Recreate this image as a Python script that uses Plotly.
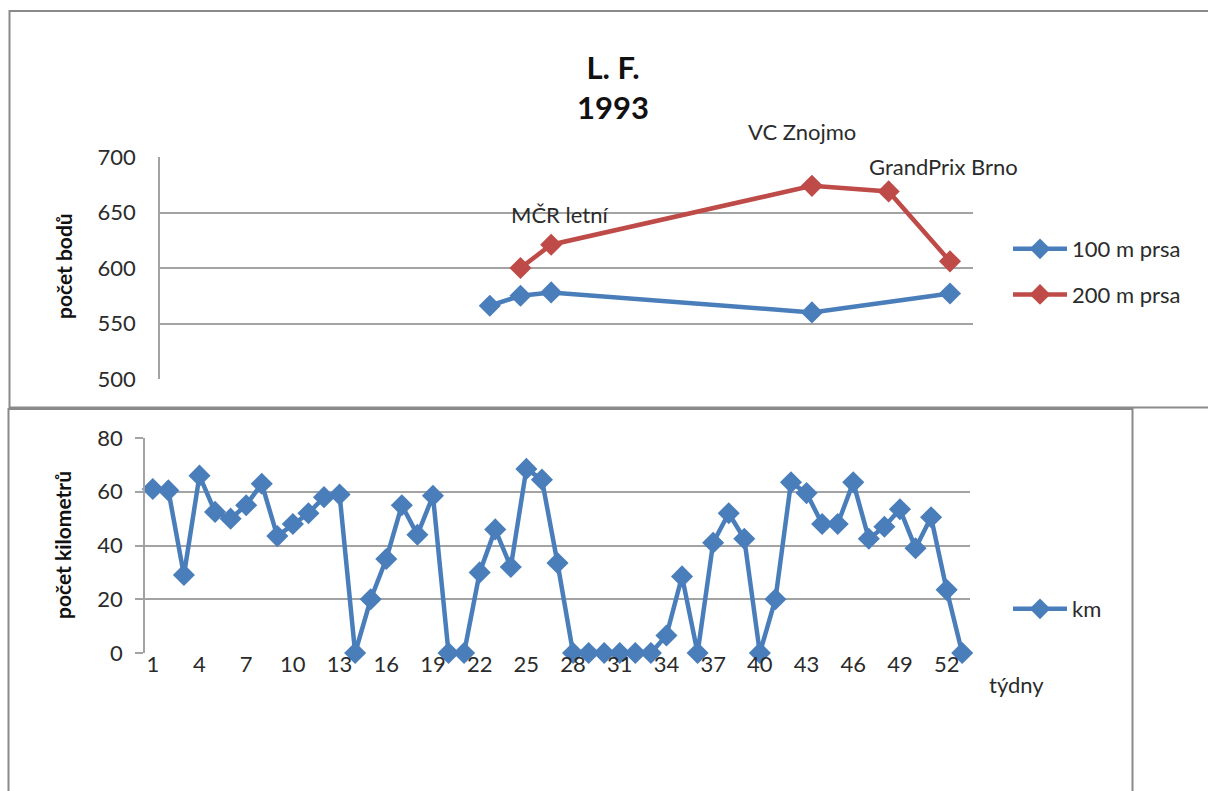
import plotly.graph_objects as go

# Weekly training volume (km) for weeks 1..53
weeks = list(range(1, 54))
km = [61, 60.5, 29, 66, 52.5, 50, 55, 63, 43.5, 48, 52, 58, 59, 0, 20, 35, 55, 44, 58.5,
      0, 0, 30, 46, 32, 68.5, 64.5, 33.5, 0, 0, 0, 0, 0, 0, 6.5, 28.5, 0, 41, 52, 42.5,
      0, 20, 63.5, 59.5, 48, 48, 63.5, 42.5, 47, 53.5, 39, 50.5, 23.5, 0]

# Competition results (points)
weeks_100 = [22, 24, 26, 43, 52]
points_100 = [566, 575, 578, 560, 577]
weeks_200 = [24, 26, 43, 48, 52]
points_200 = [600, 621, 674, 669, 606]

# Named meets, attached to 200 m results
meet_names = ["MČR letní", "VC Znojmo", "GrandPrix Brno"]
meet_weeks = [26, 43, 48]
meet_shifts = [(8, 30), (-10, 54), (55, 25)]

week_ticks = list(range(1, 54, 3))
pts_ticks = [500, 550, 600, 650, 700]
km_ticks = [0, 20, 40, 60, 80]

W, H = 1208, 791
BLUE = "#4A7EBB"
RED = "#BE4B48"
GRID = "#a3a3a3"
FONT = "Lato"
TXT = "#2b2b2b"


def px(x):
    return x / W


def py(y):
    return 1 - y / H


fig = go.Figure()

fig.add_trace(go.Scatter(
    x=weeks_100, y=points_100, name="100 m prsa", mode="lines+markers", cliponaxis=False,
    line=dict(color=BLUE, width=4.5), marker=dict(symbol="diamond", size=17, color=BLUE),
    xaxis="x", yaxis="y", legend="legend", legendgroup="a"))
fig.add_trace(go.Scatter(
    x=weeks_200, y=points_200, name="200 m prsa", mode="lines+markers", cliponaxis=False,
    line=dict(color=RED, width=4.5), marker=dict(symbol="diamond", size=17, color=RED),
    xaxis="x", yaxis="y", legend="legend", legendgroup="b"))
fig.add_trace(go.Scatter(
    x=weeks, y=km, name="km", mode="lines+markers", cliponaxis=False,
    line=dict(color=BLUE, width=4.5), marker=dict(symbol="diamond", size=17, color=BLUE),
    xaxis="x2", yaxis="y2", legend="legend2"))

annotations = []
for name, wk, (dx, dy) in zip(meet_names, meet_weeks, meet_shifts):
    val = points_200[weeks_200.index(wk)]
    annotations.append(dict(x=wk, y=val, xref="x", yref="y", text=name, showarrow=False,
                            xanchor="center", yanchor="middle",
                            xshift=dx, yshift=dy, font=dict(family=FONT, size=22, color=TXT)))

annotations += [
    dict(x=px(63), y=py(266), xref="paper", yref="paper", text="<b>počet bodů</b>",
         xanchor="center", yanchor="middle",
         textangle=-90, showarrow=False, font=dict(family=FONT, size=21, color="#111")),
    dict(x=px(62), y=py(545), xref="paper", yref="paper", text="<b>počet kilometrů</b>",
         xanchor="center", yanchor="middle",
         textangle=-90, showarrow=False, font=dict(family=FONT, size=21, color="#111")),
    dict(x=px(1016), y=py(684), xref="paper", yref="paper", text="týdny",
         xanchor="center", yanchor="middle",
         showarrow=False, font=dict(family=FONT, size=22, color=TXT)),
]

shapes = [
    dict(type="rect", xref="paper", yref="paper", x0=px(9.5), x1=1.02, y0=py(407.5), y1=py(11),
         line=dict(color="#8a8a8a", width=2)),
    dict(type="rect", xref="paper", yref="paper", x0=px(8.5), x1=px(1132.5), y0=-0.02, y1=py(409),
         line=dict(color="#8a8a8a", width=2)),
]

axis_font = dict(family=FONT, size=22, color=TXT)

fig.update_layout(
    width=W, height=H, margin=dict(l=0, r=0, t=0, b=0, autoexpand=False),
    paper_bgcolor="white", plot_bgcolor="white",
    title=dict(text="<b>L. F.<br>1993</b>", x=px(613), y=py(79), xanchor="center", yanchor="middle",
               font=dict(family=FONT, size=31, color="#111"), automargin=False),
    xaxis=dict(domain=[px(160), px(973)], range=[0.5, 53.5], showticklabels=False, ticks="",
               showgrid=False, zeroline=False, showline=False, anchor="y", automargin=False),
    yaxis=dict(domain=[py(379), py(157)], range=[500, 700], tickvals=pts_ticks,
               showgrid=True, gridcolor=GRID, gridwidth=1.5, zeroline=False,
               showline=True, linecolor=GRID, linewidth=1.5, ticks="", ticklabelstandoff=18,
               tickfont=axis_font, anchor="x", automargin=False),
    xaxis2=dict(domain=[px(145), px(970)], range=[0.5, 53.5], tickvals=week_ticks,
                showgrid=False, zeroline=False, showline=False, ticks="",
                ticklabelstandoff=-4, tickfont=axis_font, anchor="y2", automargin=False),
    yaxis2=dict(domain=[py(653), py(438)], range=[0, 80], tickvals=km_ticks,
                showgrid=True, gridcolor=GRID, gridwidth=1.5, zeroline=False,
                showline=True, linecolor=GRID, linewidth=1.5, ticks="outside", ticklen=8,
                tickcolor=GRID, tickwidth=1.5, ticklabelstandoff=8,
                tickfont=axis_font, anchor="x2", automargin=False),
    legend=dict(x=px(1008), y=py(228), xanchor="left", yanchor="top", tracegroupgap=14,
                font=dict(family=FONT, size=22, color=TXT), bgcolor="rgba(0,0,0,0)",
                itemwidth=54),
    legend2=dict(x=px(1008), y=py(588), xanchor="left", yanchor="top",
                 font=dict(family=FONT, size=22, color=TXT), bgcolor="rgba(0,0,0,0)",
                 itemwidth=54),
    annotations=annotations,
    shapes=shapes,
)

fig.write_html("out.html")
